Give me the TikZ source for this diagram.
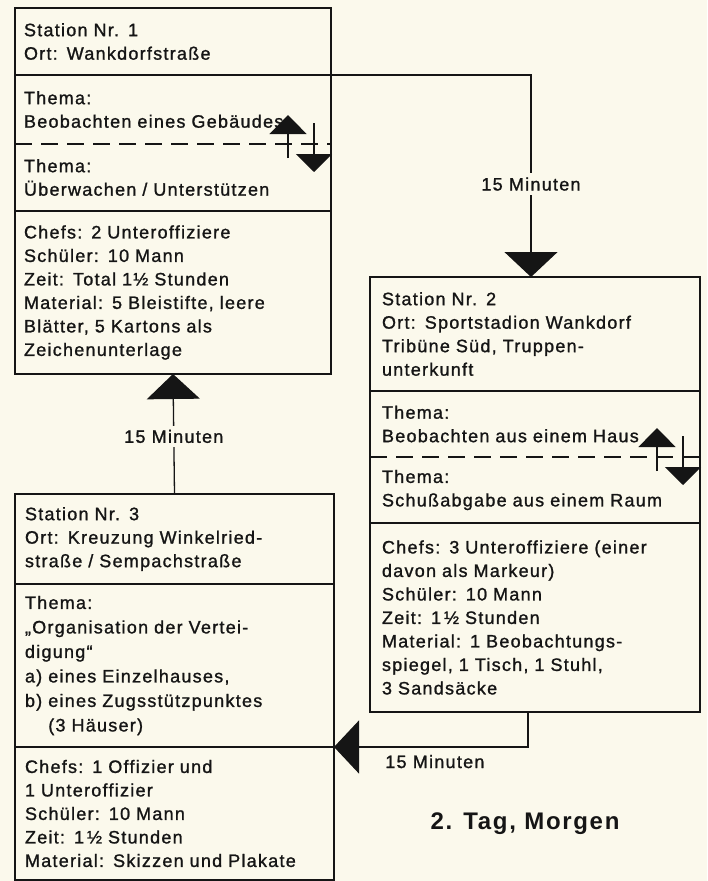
\documentclass[tikz,border=0pt]{standalone}
\usepackage{fontspec}
\setmainfont{Liberation Sans}[LetterSpace=7,UprightFeatures={FakeBold=1.2}]
\usepackage{xcolor}
\definecolor{Paper}{HTML}{FBF9EC}
\definecolor{Ink}{HTML}{151515}
\usepackage{tikz}
\usetikzlibrary{arrows.meta,positioning,calc}

\begin{document}
\begin{tikzpicture}[x=1pt,y=-1pt,color=Ink,line width=1.3pt,
  font=\fontsize{18}{23.5}\selectfont,
  part/.style={text width=#1,align=left,inner xsep=9pt,inner ysep=0pt,outer sep=0pt,anchor=north},
  sep/.style={dash pattern=on 17pt off 9pt},
  flow/.style={-{Triangle[width=53pt,length=25pt]}},
  lbl/.style={fill=Paper,inner sep=4pt},
  updown/.pic={
    \draw[-{Triangle[width=37pt,length=19pt]}] (-43,14) -- (-43,-29);
    \draw[-{Triangle[width=36pt,length=18pt]}] (-17,-21) -- (-17,28);
  }]
\path[use as bounding box,fill=Paper] (0,0) rectangle (707,881);

% Station 1
\node[part=298pt,anchor=north west,minimum height=67pt] (s1a) at (15,8) {Station Nr. 1\\Ort: Wankdorfstraße};
\node[part=298pt,minimum height=69pt,below=0pt of s1a] (s1b) {Thema:\\Beobachten eines Gebäudes};
\node[part=298pt,minimum height=67pt,below=0pt of s1b] (s1c) {Thema:\\Überwachen / Unterstützen};
\node[part=298pt,minimum height=163pt,below=0pt of s1c] (s1d) {Chefs: 2 Unteroffiziere\\Schüler: 10 Mann\\Zeit: Total 1½ Stunden\\Material: 5 Bleistifte, leere\\Blätter, 5 Kartons als\\Zeichenunterlage};
\draw (s1a.north west) rectangle (s1d.south east);
\draw (s1a.south west) -- (s1a.south east);
\draw[sep] (s1b.south west) -- (s1b.south east);
\draw (s1c.south west) -- (s1c.south east);
\pic at (s1b.south east) {updown};

% Station 2
\node[part=306pt,inner xsep=12pt,anchor=north west,minimum height=114pt] (s2a) at (370,277) {Station Nr. 2\\Ort: Sportstadion Wankdorf\\Tribüne Süd, Truppen-\\unterkunft};
\node[part=306pt,inner xsep=12pt,minimum height=66pt,below=0pt of s2a] (s2b) {Thema:\\Beobachten aus einem Haus};
\node[part=306pt,inner xsep=12pt,minimum height=66pt,below=0pt of s2b] (s2c) {Thema:\\Schußabgabe aus einem Raum};
\node[part=306pt,inner xsep=12pt,minimum height=189pt,below=0pt of s2c] (s2d) {Chefs: 3 Unteroffiziere (einer\\davon als Markeur)\\Schüler: 10 Mann\\Zeit: 1\,½ Stunden\\Material: 1 Beobachtungs-\\spiegel, 1 Tisch, 1 Stuhl,\\3 Sandsäcke};
\draw (s2a.north west) rectangle (s2d.south east);
\draw (s2a.south west) -- (s2a.south east);
\draw[sep] (s2b.south west) -- (s2b.south east);
\draw (s2c.south west) -- (s2c.south east);
\pic at (s2b.south east) {updown};

% Station 3
\node[part=299pt,inner xsep=10pt,anchor=north west,minimum height=90pt] (s3a) at (15,494) {Station Nr. 3\\Ort: Kreuzung Winkelried-\\straße / Sempachstraße};
\node[part=299pt,inner xsep=10pt,minimum height=163pt,below=0pt of s3a,font=\fontsize{18}{24.5}\selectfont] (s3b) {Thema:\\„Organisation der Vertei-\\digung“\\a) eines Einzelhauses,\\b) eines Zugsstützpunktes\\\phantom{b) }(3 Häuser)};
\node[part=299pt,inner xsep=10pt,minimum height=133pt,below=0pt of s3b] (s3c) {Chefs: 1 Offizier und\\1 Unteroffizier\\Schüler: 10 Mann\\Zeit: 1\,½ Stunden\\Material: Skizzen und Plakate};
\draw (s3a.north west) rectangle (s3c.south east);
\draw (s3a.south west) -- (s3a.south east);
\draw (s3b.south west) -- (s3b.south east);

% Wege
\draw[flow] (s1a.south east) -| node[lbl,pos=0.77] (m12) {15 Minuten} ([xshift=-4pt]s2a.north);
\draw[flow] ([xshift=-7pt]s2d.south) |- node[below=4pt,pos=0.74] (m23) {15 Minuten} (s3c.north east);
\draw[flow] (s3a.north) -- node[lbl,pos=0.48] (m31) {15 Minuten} (s1d.south);

\node[font=\fontsize{24}{28}\selectfont\bfseries] (tag) at (525,824) {2. Tag, Morgen};
\end{tikzpicture}
\end{document}
